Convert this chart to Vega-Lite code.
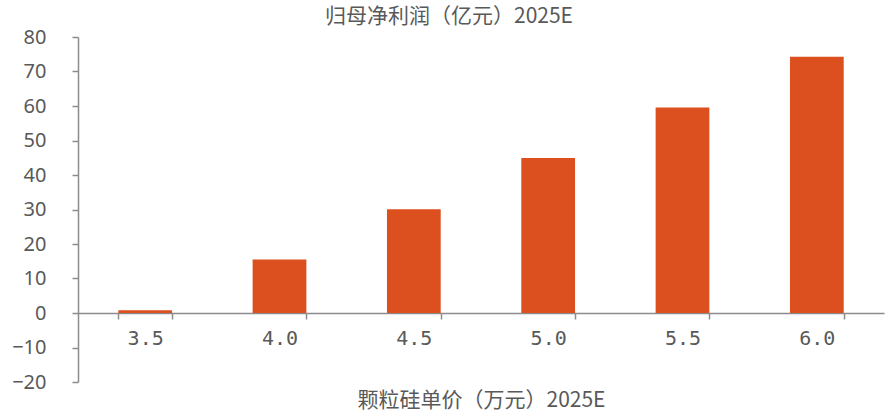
{
  "$schema": "https://vega.github.io/schema/vega-lite/v6.json",
  "width": 806,
  "height": 345,
  "autosize": {"type": "none"},
  "padding": {"left": 78, "top": 37, "right": 5, "bottom": 34},
  "background": "#ffffff",
  "title": {
    "text": "归母净利润（亿元）2025E",
    "font": "Noto Sans CJK SC",
    "fontSize": 21,
    "fontWeight": "normal",
    "color": "#595959",
    "anchor": "middle",
    "baseline": "middle",
    "offset": 8,
    "dx": -32,
    "dy": 19
  },
  "data": {
    "values": [
      {"price": "3.5", "profit": 0.8},
      {"price": "4.0", "profit": 15.5},
      {"price": "4.5", "profit": 30.1},
      {"price": "5.0", "profit": 44.9},
      {"price": "5.5", "profit": 59.6},
      {"price": "6.0", "profit": 74.3}
    ]
  },
  "mark": {"type": "bar", "color": "#DC4F1F"},
  "encoding": {
    "x": {
      "field": "price",
      "type": "ordinal",
      "sort": null,
      "scale": {"paddingInner": 0.6, "paddingOuter": 0.3},
      "axis": {
        "title": "颗粒硅单价（万元）2025E",
        "titleFont": "Noto Sans CJK SC",
        "titleFontSize": 21,
        "titleFontWeight": "normal",
        "titleColor": "#595959",
        "titleBaseline": "middle",
        "titleY": 87,
        "labelAngle": 0,
        "labelFont": "DejaVu Sans Mono",
        "labelFontSize": 20,
        "labelColor": "#595959",
        "labelPadding": 9,
        "tickBand": "extent",
        "tickSize": 6,
        "tickWidth": 1.5,
        "tickColor": "#8c8c8c",
        "domainColor": "#8c8c8c",
        "domainWidth": 1.5,
        "offset": -69,
        "grid": false
      }
    },
    "y": {
      "field": "profit",
      "type": "quantitative",
      "scale": {"domain": [-20, 80], "nice": false, "zero": false},
      "axis": {
        "title": null,
        "values": [-20, -10, 0, 10, 20, 30, 40, 50, 60, 70, 80],
        "labelFont": "Noto Sans",
        "labelFontSize": 20,
        "labelColor": "#595959",
        "labelPadding": 26,
        "tickSize": 6,
        "tickWidth": 1.5,
        "tickColor": "#8c8c8c",
        "domainColor": "#8c8c8c",
        "domainWidth": 1.5,
        "grid": false
      }
    }
  },
  "config": {"view": {"stroke": null}}
}
